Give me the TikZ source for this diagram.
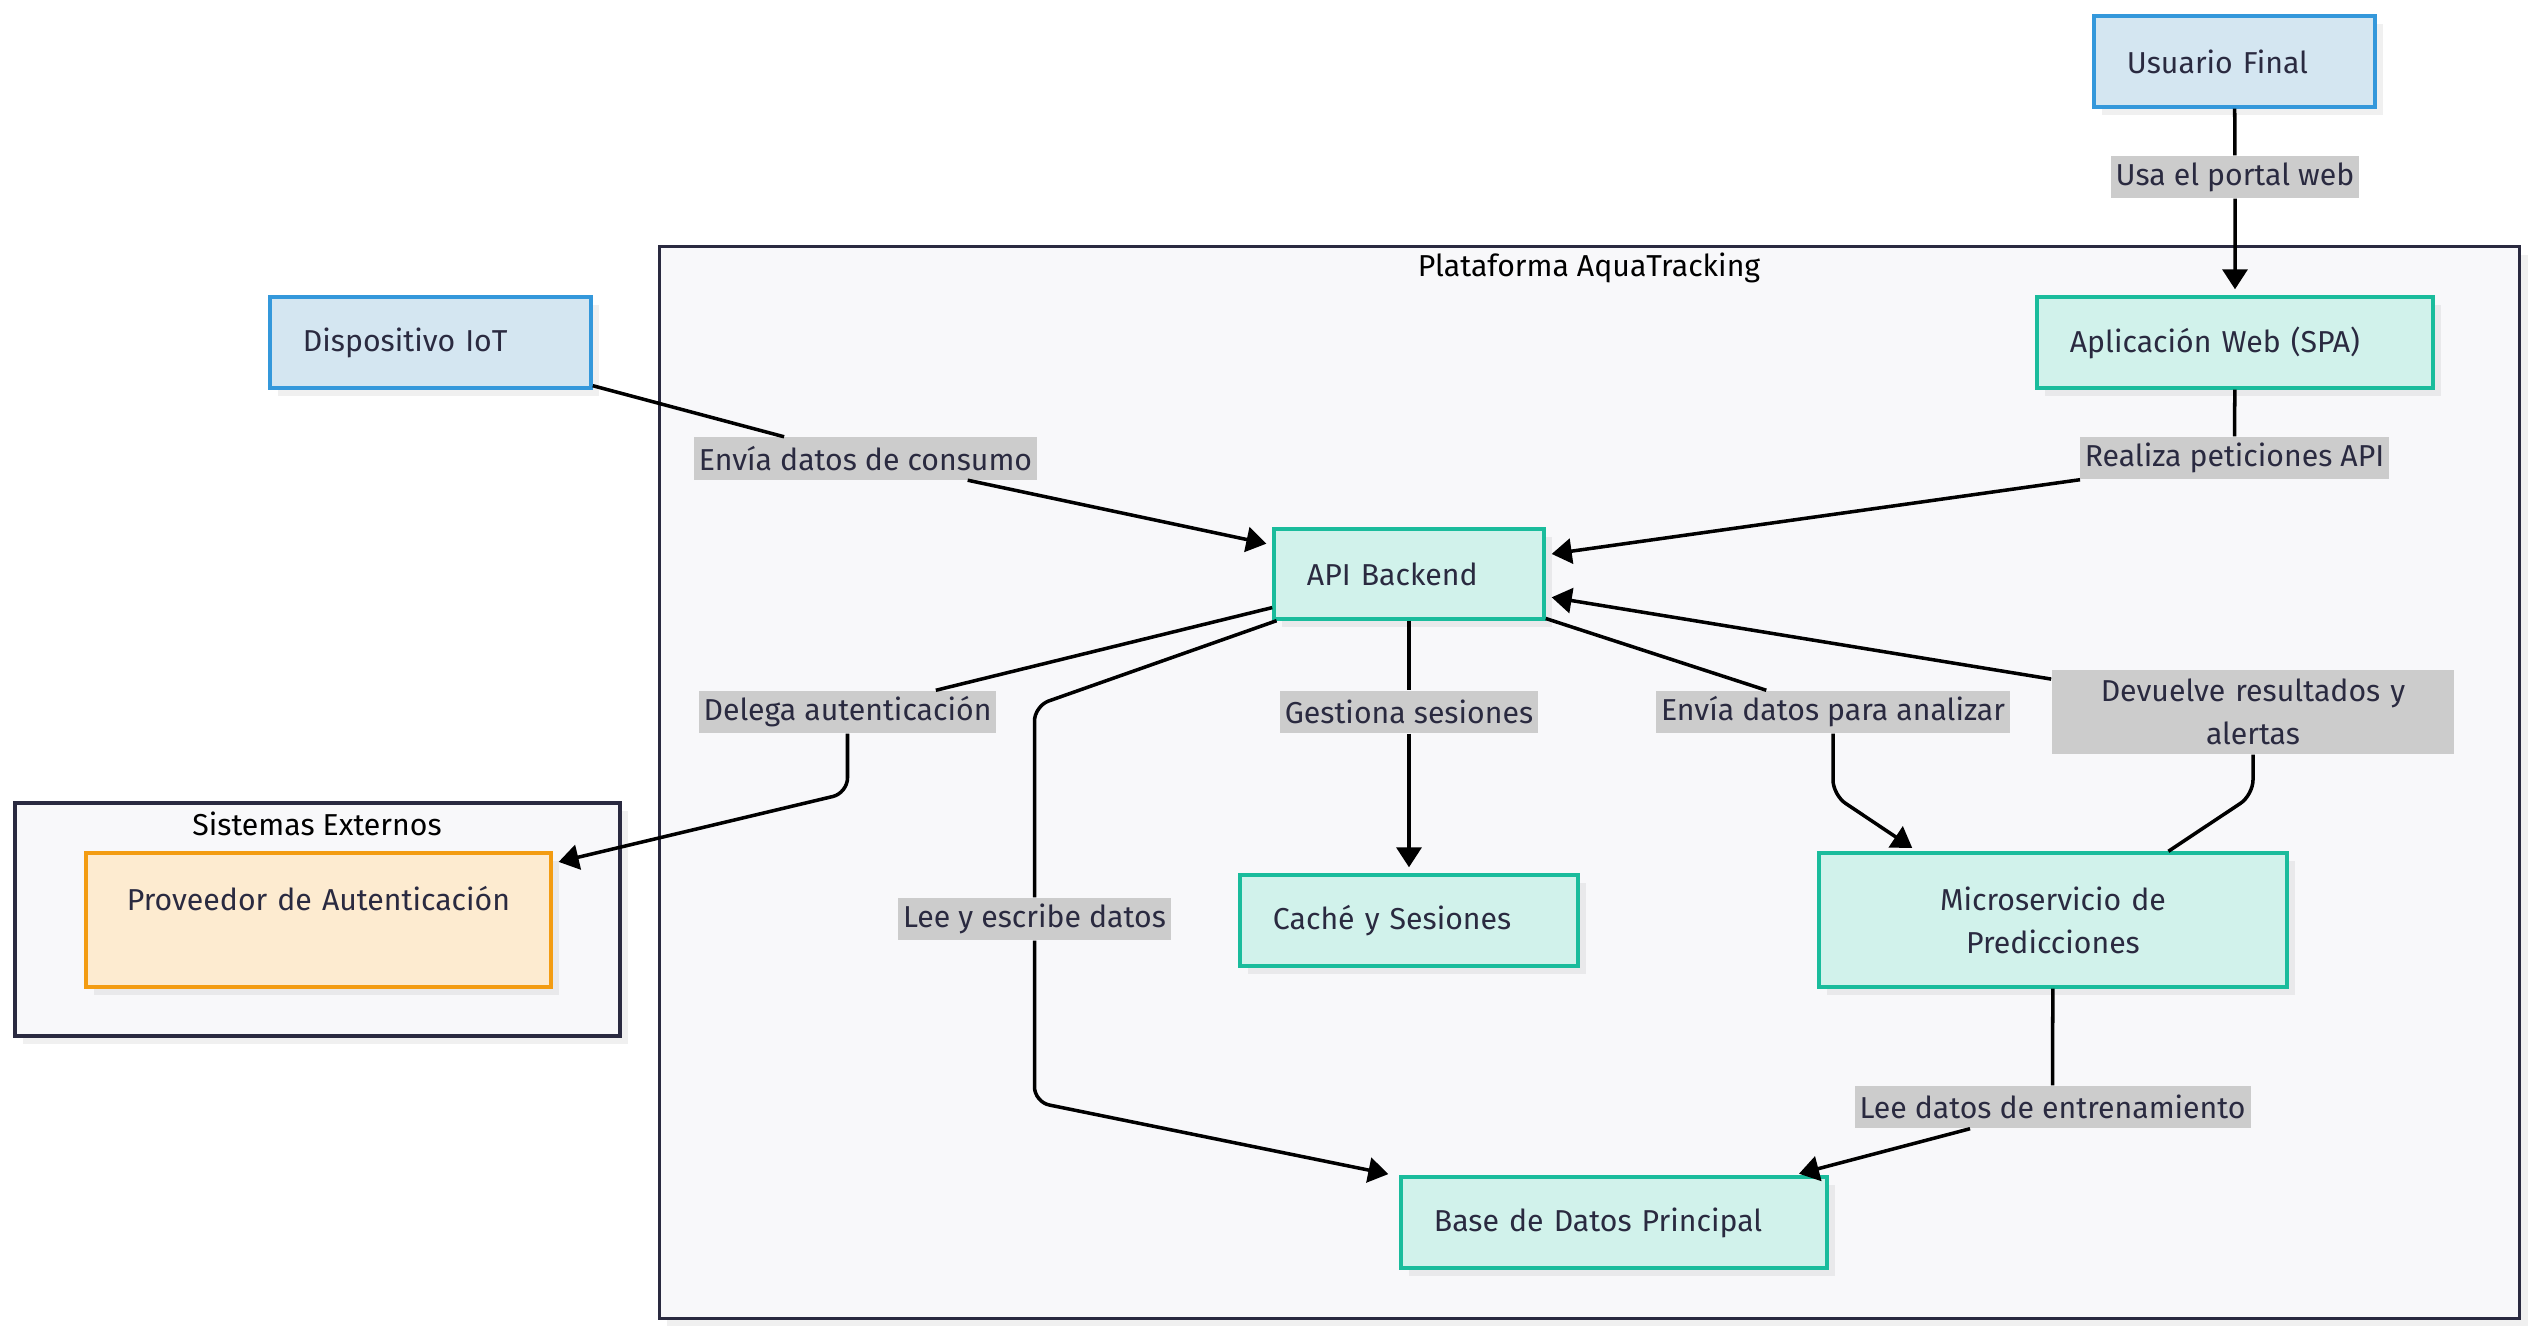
\documentclass[tikz,border=0pt]{standalone}
\usepackage{fontspec}
\setmainfont{Fira Sans}
\usepackage{tikz}
\usetikzlibrary{arrows.meta,calc,positioning,shadows}
\definecolor{aqblue}{RGB}{52,152,219}
\definecolor{aqbluefill}{RGB}{212,230,241}
\definecolor{aqteal}{RGB}{26,188,156}
\definecolor{aqtealfill}{RGB}{209,242,235}
\definecolor{aqorange}{RGB}{243,156,18}
\definecolor{aqorangefill}{RGB}{253,235,208}
\definecolor{aqnavy}{RGB}{42,42,64}
\definecolor{aqgrey}{RGB}{204,204,204}
\definecolor{aqcluster}{RGB}{248,248,250}

\begin{document}
\begin{tikzpicture}[
      x=0.01cm, y=-0.01cm,
      font=\fontsize{8.6}{12.2}\selectfont,
      every node/.style={text=aqnavy},
      softshadow/.style={drop shadow={shadow xshift=0.08cm, shadow yshift=-0.08cm, fill=black, opacity=0.06}},
      card/.style={draw, line width=0.95pt, minimum height=0.91cm, inner xsep=0.33cm, align=left, softshadow},
      actor/.style={card, draw=aqblue, fill=aqbluefill},
      svc/.style={card, draw=aqteal, fill=aqtealfill},
      extsvc/.style={card, draw=aqorange, fill=aqorangefill},
      group/.style={draw=aqnavy, fill=aqcluster, line width=1pt, inner sep=0pt, softshadow},
      tag/.style={fill=aqgrey, inner xsep=0.05cm, inner ysep=0pt, minimum height=0.42cm},
      flow/.style={-{Triangle[length=0.2cm, width=0.25cm]}, line width=1pt, rounded corners=0.15cm, shorten >=0.06cm}
    ]
      \fill[white] (0,0) rectangle (2535,1334);
      \useasboundingbox (0,0) rectangle (2535,1334);

      % Clusters
      \node[group, minimum width=18.59cm, minimum height=10.71cm] (plataforma) at (1589.5,782.5) {};
      \node[text=black] (tplataforma) at (1589,268) {Plataforma AquaTracking};
      \node[group, minimum width=6.05cm, minimum height=2.33cm] (externos) at (317.5,919.5) {};
      \node[text=black] (texternos) at (317,824) {Sistemas Externos};

      % Actors
      \node[actor, text width=2.15cm] (usuario) at (2234.5,61.5) {Usuario Final};
      \node[actor, text width=2.55cm] (iot) at (430.5,342.5) {Dispositivo IoT};

      % Platform services
      \node[svc, text width=3.30cm] (spa) at (2235,342.5) {Aplicación Web (SPA)};
      \node[svc, text width=2.04cm, minimum height=0.90cm] (api) at (1409,574) {API Backend};
      \node[svc, text width=2.72cm] (cache) at (1409,920.5) {Caché y Sesiones};
      \node[svc, text width=4.02cm, minimum height=1.34cm, align=center] (micro) at (2053,920) {Microservicio de\\Predicciones};
      \node[svc, text width=3.60cm] (base) at (1614,1222.5) {Base de Datos Principal};

      % External provider
      \node[extsvc, text width=3.99cm, minimum height=1.34cm, align=center] (prov) at (318.5,920) {Proveedor de Autenticación\\\mbox{}};

      % Edge labels
      \node[tag] (lusa) at (2235,177) {Usa el portal web};
      \node[tag] (lconsumo) at (865.5,458.5) {Envía datos de consumo};
      \node[tag] (lrealiza) at (2234.5,458) {Realiza peticiones API};
      \node[tag] (ldelega) at (847.5,712) {Delega autenticación};
      \node[tag] (lgestiona) at (1409,712) {Gestiona sesiones};
      \node[tag] (lanaliza) at (1833,712) {Envía datos para analizar};
      \node[tag, text width=3.92cm, align=center, minimum height=0.84cm] (ldevuelve) at (2253,712) {Devuelve resultados y\\alertas};
      \node[tag] (llee) at (1034.5,919) {Lee y escribe datos};
      \node[tag] (lentrena) at (2052.5,1107) {Lee datos de entrenamiento};

      % Connectors
      \draw[flow] (usuario) -- (lusa) -- (spa);
      \draw[flow] (iot) -- (lconsumo) -- (api);
      \draw[flow] (spa) -- (lrealiza) -- (api);
      \draw[flow] (api) -- (ldelega) -- (ldelega.south |- 0,793) -- ([yshift=-0.12cm]prov.north east);
      \draw[flow] (api) -- (lgestiona) -- (cache);
      \draw[flow] (api) -- (lanaliza) -- (lanaliza.south |- 0,795) -- ([xshift=1.0cm]micro.north west);
      \draw[flow] ([xshift=3.51cm]micro.north west) -- (ldevuelve.south |- 0,795) -- (ldevuelve) -- (api);
      \draw[flow] (micro) -- (lentrena) -- (base);
      \draw[flow] (api) -- (llee.north |- 0,706) -- (llee) -- (llee.south |- 0,1102) -- ([xshift=-0.05cm]base.north west);
    \end{tikzpicture}
\end{document}
